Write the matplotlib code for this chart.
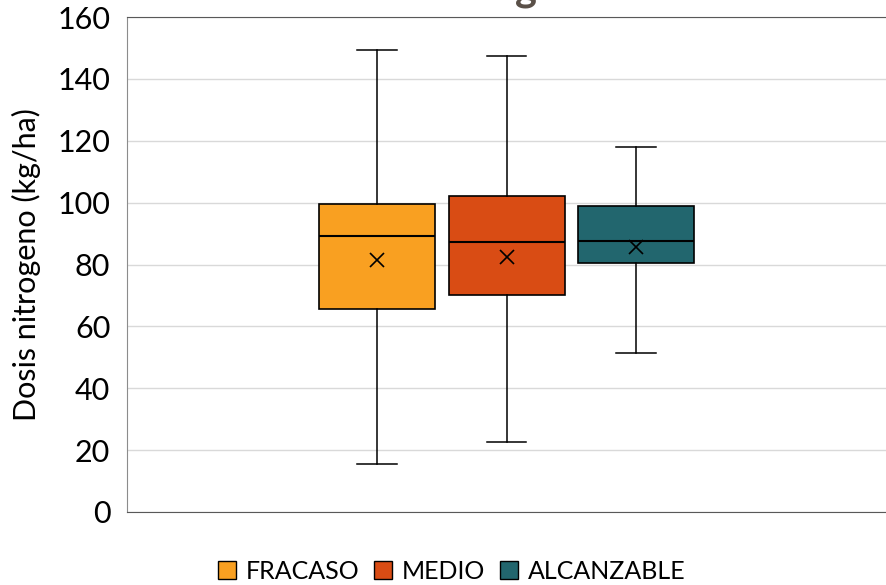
import numpy as np
import matplotlib.pyplot as plt
from matplotlib.patches import Patch

plt.rcParams['font.family'] = ['Lato', 'DejaVu Sans']

# Datos (dosis de nitrogeno, kg/ha)
grupos = ["FRACASO", "MEDIO", "ALCANZABLE"]
minimos = [15.5, 22.5, 51.5]
q1 = [65.5, 70, 80.5]
medianas = [89.2, 87.3, 87.5]
q3 = [99.5, 102, 99]
maximos = [149.5, 147.5, 118]
medias = [81.5, 82.5, 85.5]
colores = ["#F9A021", "#D94C14", "#22666E"]

stats = []
for g, lo, a, m, b, hi, mu in zip(grupos, minimos, q1, medianas, q3, maximos, medias):
    stats.append({"label": g, "whislo": lo, "q1": a, "med": m, "q3": b,
                  "whishi": hi, "mean": mu, "fliers": []})

fig = plt.figure(figsize=(8.86, 5.85), dpi=100)
ax = fig.add_axes([0.1433, 0.1248, 0.857, 0.8461])

pos = [0.5 - 0.1706, 0.5, 0.5 + 0.1706]
bp = ax.bxp(stats, positions=pos, widths=0.153, capwidths=0.052,
            patch_artist=True, showmeans=True, manage_ticks=False,
            boxprops=dict(edgecolor="black", linewidth=1.2),
            medianprops=dict(color="black", linewidth=1.5),
            whiskerprops=dict(color="black", linewidth=1.1),
            capprops=dict(color="black", linewidth=1.1),
            meanprops=dict(marker="x", markeredgecolor="black",
                           markersize=10, markeredgewidth=1.2))
for box, c in zip(bp["boxes"], colores):
    box.set_facecolor(c)

ax.set_xlim(0, 1)
ax.set_ylim(0, 160)
ax.set_yticks(np.arange(0, 161, 20))
ax.set_xticks([])
ax.grid(axis="y", color="#d9d9d9", linewidth=1)
ax.set_axisbelow(True)
ax.tick_params(axis="y", length=0, labelsize=22, pad=12)
ax.spines["right"].set_visible(False)
ax.spines["top"].set_color("#595959")
ax.spines["bottom"].set_color("#595959")
ax.spines["left"].set_color("#8c8c8c")
ax.set_ylabel("Dosis nitrogeno (kg/ha)", fontsize=22, labelpad=12)

# titulo cortado en la parte superior
fig.text(526 / 886, 1.0, "g", ha="center", va="baseline",
         fontsize=30, fontweight="bold", color="#5a5048")

handles = [Patch(facecolor=c, edgecolor="black", label=g) for g, c in zip(grupos, colores)]
fig.legend(handles=handles, loc="lower center", bbox_to_anchor=(0.51, -0.035),
           ncol=3, frameon=False, fontsize=18, handlelength=0.7, handleheight=0.7,
           handletextpad=0.4, columnspacing=0.6)

fig.savefig("out.png", dpi=100)
